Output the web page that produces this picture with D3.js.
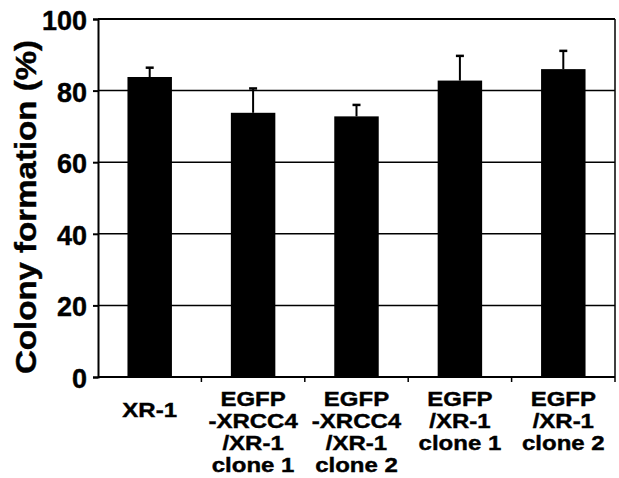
<!DOCTYPE html>
<html lang="en">
<head>
    <meta charset="UTF-8">
    <title>Colony formation</title>
    <script src="https://d3js.org/d3.v7.min.js"></script>
    <style>
        body { margin: 0; background: #fff; }
        text { font-family: "Liberation Sans", Arial, sans-serif; font-weight: bold; fill: #000; stroke: #000; stroke-width: 0.4; }
        .tick-label { font-size: 27px; text-anchor: end; }
        .cat-label { font-size: 20px; text-anchor: middle; }
        .axis-name { font-size: 29px; text-anchor: middle; }
    </style>
</head>
<body>
    <script>
        const categories = [
            ['XR-1'],
            ['EGFP', '-XRCC4', '/XR-1', 'clone 1'],
            ['EGFP', '-XRCC4', '/XR-1', 'clone 2'],
            ['EGFP', '/XR-1', 'clone 1'],
            ['EGFP', '/XR-1', 'clone 2']
        ];
        const means = [83.8, 73.8, 72.8, 82.8, 86.0];
        const errors = [2.6, 6.8, 3.2, 6.9, 5.1];
        const yTicks = [0, 20, 40, 60, 80, 100];

        const width = 619, height = 478;
        const mLeft = 98, mRight = 615, mTop = 19, mBottom = 377;

        const svg = d3.select('body').append('svg')
            .attr('width', width)
            .attr('height', height);

        const xScale = d3.scaleBand()
            .domain(d3.range(categories.length))
            .range([mLeft, mRight])
            .paddingInner(0.57)
            .paddingOuter(0.285);

        const yScale = d3.scaleLinear()
            .domain([0, 100])
            .range([mBottom, mTop]);

        // gridlines
        svg.selectAll('.grid')
            .data(yTicks.filter(d => d > 0))
            .enter().append('line')
            .attr('x1', mLeft).attr('x2', mRight)
            .attr('y1', d => yScale(d)).attr('y2', d => yScale(d))
            .attr('stroke', '#000')
            .attr('stroke-width', d => d === 100 ? 2 : 1.5);

        // right border
        svg.append('line')
            .attr('x1', mRight).attr('x2', mRight)
            .attr('y1', mTop).attr('y2', mBottom)
            .attr('stroke', '#000').attr('stroke-width', 1.5);

        // error bars (up only)
        const err = svg.selectAll('.err')
            .data(means)
            .enter().append('g');
        err.append('line')
            .attr('x1', (d, i) => xScale(i) + xScale.bandwidth() / 2)
            .attr('x2', (d, i) => xScale(i) + xScale.bandwidth() / 2)
            .attr('y1', d => yScale(d))
            .attr('y2', (d, i) => yScale(d + errors[i]))
            .attr('stroke', '#000').attr('stroke-width', 2);
        err.append('line')
            .attr('x1', (d, i) => xScale(i) + xScale.bandwidth() / 2 - 4)
            .attr('x2', (d, i) => xScale(i) + xScale.bandwidth() / 2 + 4)
            .attr('y1', (d, i) => yScale(d + errors[i]))
            .attr('y2', (d, i) => yScale(d + errors[i]))
            .attr('stroke', '#000').attr('stroke-width', 2.5);

        // bars
        svg.selectAll('.bar')
            .data(means)
            .enter().append('rect')
            .attr('x', (d, i) => xScale(i))
            .attr('y', d => yScale(d))
            .attr('width', xScale.bandwidth())
            .attr('height', d => mBottom - yScale(d))
            .attr('fill', '#000');

        // y axis
        const yAxis = svg.append('g')
            .attr('transform', `translate(${mLeft},0)`)
            .call(d3.axisLeft(yScale).tickValues(yTicks).tickSize(5).tickFormat(''));
        yAxis.selectAll('line, path').attr('stroke', '#000').attr('stroke-width', 2);

        svg.selectAll('.tick-label')
            .data(yTicks)
            .enter().append('text')
            .attr('class', 'tick-label')
            .attr('x', mLeft - 11)
            .attr('y', d => yScale(d) + 11)
            .text(d => d);

        // x axis with ticks at category boundaries
        const bounds = d3.range(1, categories.length + 1).map(i => mLeft + i * (mRight - mLeft) / categories.length);
        svg.append('line')
            .attr('x1', mLeft).attr('x2', mRight)
            .attr('y1', mBottom).attr('y2', mBottom)
            .attr('stroke', '#000').attr('stroke-width', 2);
        svg.selectAll('.xtick')
            .data(bounds)
            .enter().append('line')
            .attr('x1', d => d).attr('x2', d => d)
            .attr('y1', mBottom).attr('y2', mBottom + 5)
            .attr('stroke', '#000').attr('stroke-width', 1.5);

        // category labels (font in the original is wider, so stretch a bit)
        const lineH = 22;
        categories.forEach((lines, i) => {
            const cx = xScale(i) + xScale.bandwidth() / 2;
            const g = svg.append('g')
                .attr('transform', `translate(${cx},${lines.length === 1 ? 417 : 406}) scale(1.2,1)`);
            const t = g.append('text')
                .attr('class', 'cat-label')
                .attr('x', 0)
                .attr('y', 0);
            lines.forEach((s, j) => {
                t.append('tspan')
                    .attr('x', 0)
                    .attr('dy', j === 0 ? 0 : lineH)
                    .text(s);
            });
        });

        svg.append('text')
            .attr('class', 'axis-name')
            .attr('transform', `translate(36,${(mTop + mBottom) / 2 + 9}) rotate(-90) scale(1.14,1)`)
            .text('Colony formation (%)');
    </script>
</body>
</html>
